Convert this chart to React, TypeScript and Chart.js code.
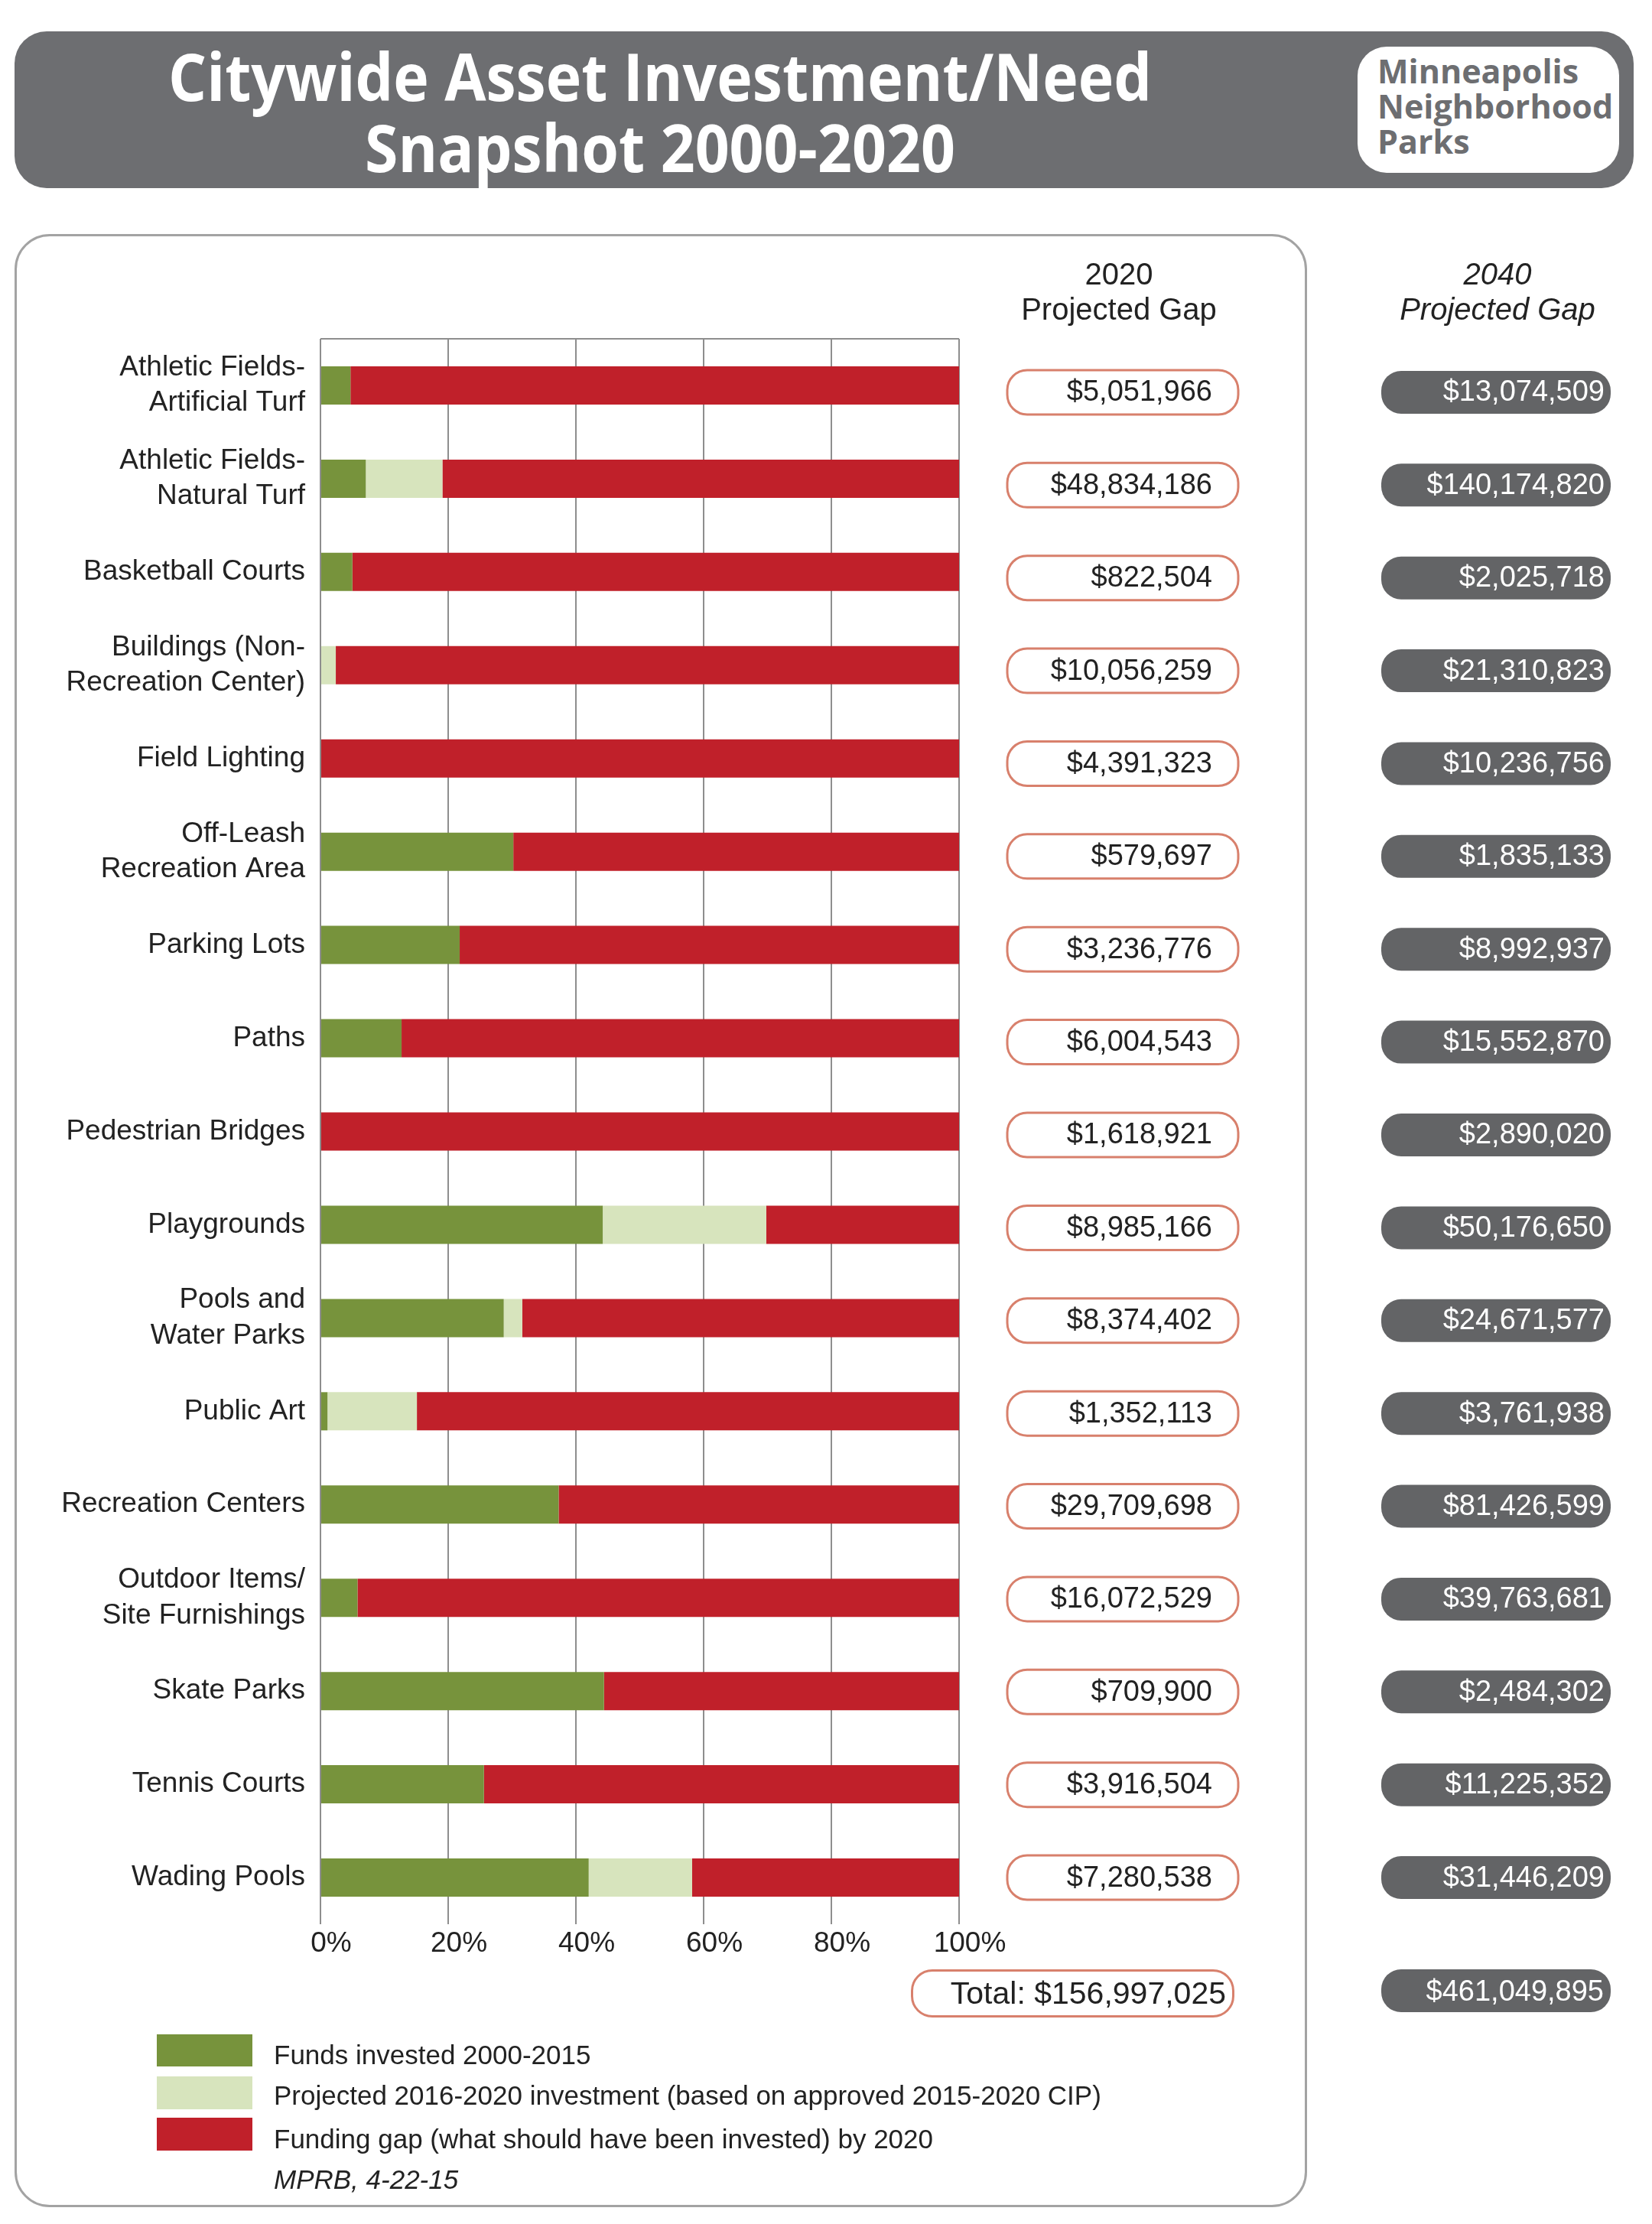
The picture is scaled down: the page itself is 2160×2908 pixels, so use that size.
import React, { useEffect, useRef } from "react";
import { Chart, registerables } from "chart.js";

Chart.register(...registerables);

const categories: string[][] = [
  ["Athletic Fields-", "Artificial Turf"],
  ["Athletic Fields-", "Natural Turf"],
  ["Basketball Courts"],
  ["Buildings (Non-", "Recreation Center)"],
  ["Field Lighting"],
  ["Off-Leash", "Recreation Area"],
  ["Parking Lots"],
  ["Paths"],
  ["Pedestrian Bridges"],
  ["Playgrounds"],
  ["Pools and", "Water Parks"],
  ["Public Art"],
  ["Recreation Centers"],
  ["Outdoor Items/", "Site Furnishings"],
  ["Skate Parks"],
  ["Tennis Courts"],
  ["Wading Pools"],
];

const fundedPct = [4.7, 7.1, 5.0, 0, 0, 30.2, 21.8, 12.7, 0, 44.2, 28.7, 1.1, 37.3, 5.8, 44.4, 25.6, 42.0];
const projectedPct = [0, 12.0, 0, 2.4, 0, 0, 0, 0, 0, 25.6, 2.9, 14.0, 0, 0, 0, 0, 16.2];
const gapPct = [95.3, 80.9, 95.0, 97.6, 100, 69.8, 78.2, 87.3, 100, 30.2, 68.4, 84.9, 62.7, 94.2, 55.6, 74.4, 41.8];

const gap2020 = [5051966, 48834186, 822504, 10056259, 4391323, 579697, 3236776, 6004543, 1618921, 8985166, 8374402, 1352113, 29709698, 16072529, 709900, 3916504, 7280538];
const gap2040 = [13074509, 140174820, 2025718, 21310823, 10236756, 1835133, 8992937, 15552870, 2890020, 50176650, 24671577, 3761938, 81426599, 39763681, 2484302, 11225352, 31446209];

const total2020 = 156997025;
const total2040 = 461049895;

const seriesNames = [
  "Funds invested 2000-2015",
  "Projected 2016-2020 investment (based on approved 2015-2020 CIP)",
  "Funding gap (what should have been invested) by 2020",
];

const GREEN = "#77933c";
const LIGHT = "#d7e4bd";
const RED = "#c0202a";
const GRID = "#8e8e8e";
const BAND = "#6d6e71";
const DARKBOX = "#636466";
const SALMON = "#d8806c";
const TEXT = "#222222";
const FONT = '"Liberation Sans", Arial, sans-serif';

const money = (v: number) => "$" + v.toLocaleString("en-US");

const rowBoxes = {
  id: "rowBoxes",
  afterDraw(chart: any) {
    const { ctx, chartArea, scales } = chart;
    ctx.save();
    ctx.strokeStyle = GRID;
    ctx.lineWidth = 2;
    ctx.beginPath();
    ctx.moveTo(chartArea.left, chartArea.top);
    ctx.lineTo(chartArea.right, chartArea.top);
    ctx.stroke();
    const n = categories.length;
    categories.forEach((_, i) => {
      const y = scales.y.getPixelForValue(i) + 9 * (1 - i / (n - 1));
      const x1 = chartArea.right + 63;
      ctx.beginPath();
      ctx.roundRect(x1, y - 29, 302, 58, 26);
      ctx.fillStyle = "#ffffff";
      ctx.fill();
      ctx.strokeStyle = SALMON;
      ctx.lineWidth = 3;
      ctx.stroke();
      ctx.fillStyle = TEXT;
      ctx.font = `38px ${FONT}`;
      ctx.textAlign = "right";
      ctx.textBaseline = "middle";
      ctx.fillText(money(gap2020[i]), x1 + 268, y + 1);

      const x2 = chartArea.right + 552;
      ctx.beginPath();
      ctx.roundRect(x2, y - 28, 300, 56, 26);
      ctx.fillStyle = DARKBOX;
      ctx.fill();
      ctx.fillStyle = "#ffffff";
      ctx.fillText(money(gap2040[i]), x2 + 292, y + 1);
    });
    ctx.restore();
  },
};

export default function App() {
  const ref = useRef<HTMLCanvasElement | null>(null);

  useEffect(() => {
    if (!ref.current) return;
    const chart = new Chart(ref.current, {
      type: "bar",
      data: {
        labels: categories,
        datasets: [
          { label: seriesNames[0], data: fundedPct, backgroundColor: GREEN, borderWidth: 0 },
          { label: seriesNames[1], data: projectedPct, backgroundColor: LIGHT, borderWidth: 0 },
          { label: seriesNames[2], data: gapPct, backgroundColor: RED, borderWidth: 0 },
        ],
      },
      options: {
        indexAxis: "y",
        animation: false,
        responsive: false,
        maintainAspectRatio: false,
        devicePixelRatio: 1,
        layout: { padding: { left: 0, right: 906, top: 443, bottom: 342 } },
        datasets: { bar: { barPercentage: 0.41, categoryPercentage: 1 } },
        plugins: { legend: { display: false }, tooltip: { enabled: false } },
        scales: {
          x: {
            stacked: true,
            min: 0,
            max: 100,
            ticks: {
              stepSize: 20,
              callback: (v: any) => v + "%",
              color: TEXT,
              font: { family: FONT, size: 37 },
              padding: 4,
              labelOffset: 14,
            },
            grid: { color: GRID, lineWidth: 2, drawTicks: false },
            border: { display: false },
            afterFit: (s: any) => {
              s.height = 50;
            },
          },
          y: {
            stacked: true,
            ticks: {
              color: TEXT,
              font: { family: FONT, size: 37, lineHeight: 1.25 },
              padding: 20,
            },
            grid: { display: false, drawTicks: false },
            border: { display: false },
            afterFit: (s: any) => {
              s.width = 419;
            },
          },
        },
      },
      plugins: [rowBoxes],
    } as any);
    return () => chart.destroy();
  }, []);

  const abs = (o: React.CSSProperties): React.CSSProperties => ({ position: "absolute", ...o });

  return (
    <div style={abs({ left: 0, top: 0, width: 2160, height: 2908, background: "#fff", overflow: "hidden", fontFamily: FONT })}>
      {/* title band */}
      <div style={abs({ left: 19, top: 41, width: 2117, height: 205, background: BAND, borderRadius: 42 })} />
      <div
        style={abs({
          left: 0,
          top: 52,
          width: 1726,
          textAlign: "center",
          color: "#fff",
          fontFamily: '"Open Sans", sans-serif',
          fontWeight: 700,
          fontSize: 86,
          lineHeight: "93px",
          transform: "scaleX(0.915)",
          transformOrigin: "863px 0",
          whiteSpace: "nowrap",
        })}
      >
        Citywide Asset Investment/Need
        <br />
        Snapshot 2000-2020
      </div>
      <div style={abs({ left: 1775, top: 61, width: 342, height: 165, background: "#fff", borderRadius: 38 })} />
      <div
        style={abs({
          left: 1801,
          top: 70,
          color: BAND,
          fontFamily: '"Open Sans", sans-serif',
          fontWeight: 700,
          fontSize: 43,
          lineHeight: "46px",
          whiteSpace: "nowrap",
        })}
      >
        Minneapolis
        <br />
        Neighborhood
        <br />
        Parks
      </div>

      {/* main panel */}
      <div style={abs({ left: 19, top: 306, width: 1690, height: 2580, border: "3px solid #a3a3a3", borderRadius: 46, boxSizing: "border-box" })} />

      <canvas ref={ref} width={2160} height={2908} style={abs({ left: 0, top: 0, width: 2160, height: 2908 })} />

      {/* column headers */}
      <div style={abs({ left: 1263, top: 335, width: 400, textAlign: "center", fontSize: 40, lineHeight: "46px", color: TEXT })}>
        2020
        <br />
        Projected Gap
      </div>
      <div style={abs({ left: 1758, top: 335, width: 400, textAlign: "center", fontSize: 40, lineHeight: "46px", color: TEXT, fontStyle: "italic" })}>
        2040
        <br />
        Projected Gap
      </div>

      {/* totals */}
      <div
        style={abs({
          left: 1191,
          top: 2575,
          width: 423,
          height: 63,
          border: `3px solid ${SALMON}`,
          borderRadius: 28,
          boxSizing: "border-box",
          textAlign: "right",
          paddingRight: 8,
          fontSize: 41,
          lineHeight: "57px",
          color: TEXT,
          background: "#fff",
        })}
      >
        Total: {money(total2020)}
      </div>
      <div
        style={abs({
          left: 1806,
          top: 2575,
          width: 300,
          height: 56,
          borderRadius: 26,
          background: DARKBOX,
          textAlign: "right",
          paddingRight: 9,
          boxSizing: "border-box",
          fontSize: 38,
          lineHeight: "56px",
          color: "#fff",
        })}
      >
        {money(total2040)}
      </div>

      {/* legend */}
      <div style={abs({ left: 205, top: 2660, width: 125, height: 42, background: GREEN })} />
      <div style={abs({ left: 205, top: 2715, width: 125, height: 43, background: LIGHT })} />
      <div style={abs({ left: 205, top: 2769, width: 125, height: 43, background: RED })} />
      <div style={abs({ left: 358, top: 2666, fontSize: 35, lineHeight: "42px", color: TEXT, whiteSpace: "nowrap" })}>{seriesNames[0]}</div>
      <div style={abs({ left: 358, top: 2719, fontSize: 35, lineHeight: "42px", color: TEXT, whiteSpace: "nowrap" })}>{seriesNames[1]}</div>
      <div style={abs({ left: 358, top: 2776, fontSize: 35, lineHeight: "42px", color: TEXT, whiteSpace: "nowrap" })}>{seriesNames[2]}</div>
      <div style={abs({ left: 358, top: 2829, fontSize: 35, lineHeight: "42px", color: TEXT, whiteSpace: "nowrap", fontStyle: "italic" })}>MPRB, 4-22-15</div>
    </div>
  );
}
